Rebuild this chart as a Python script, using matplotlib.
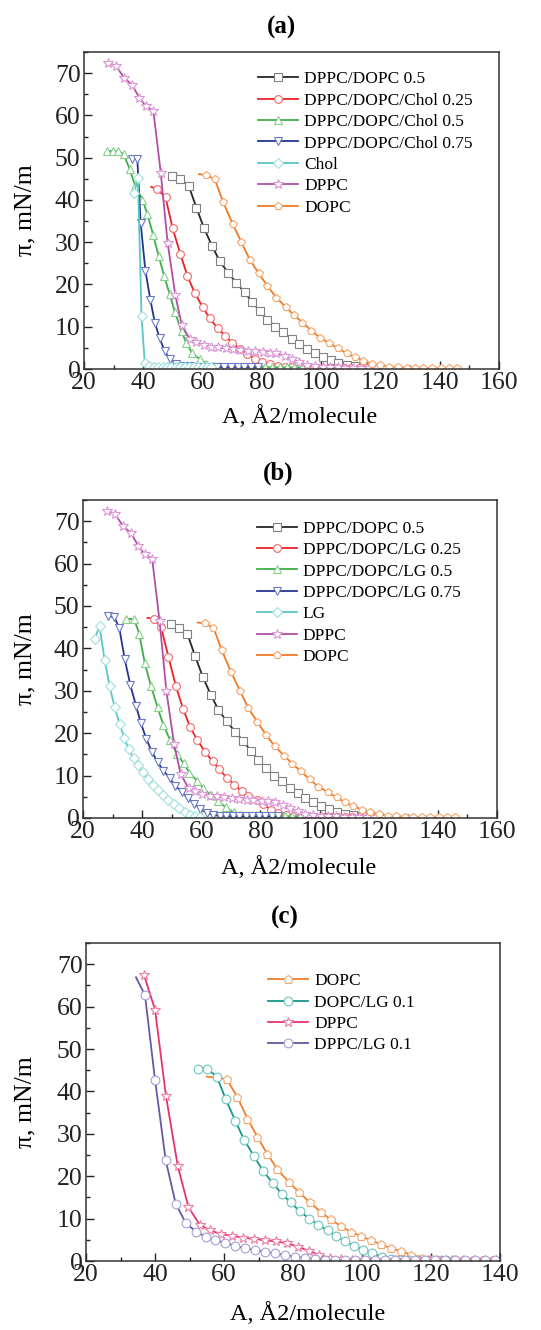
import matplotlib
matplotlib.use("Agg")
import matplotlib.pyplot as plt
from matplotlib.ticker import MultipleLocator

plt.rcParams['font.family'] = ['Liberation Serif', 'DejaVu Serif']

# ---------------- shared pure-lipid isotherms (panels a and b) ----------------
dppc_dopc_A = [49.7, 52.5, 55.3, 57.9, 60.5, 63.2, 65.8, 68.6, 71.4, 74.2, 76.7, 79.3,
               81.9, 84.6, 87.2, 90.0, 92.6, 95.1, 97.9, 100.5, 103.2, 105.8, 108.6,
               111.4, 114.2, 117.0]
dppc_dopc_P = [45.7, 44.9, 43.4, 38.2, 33.3, 29.1, 25.5, 22.8, 20.4, 18.1, 15.9, 13.7,
               11.7, 10.0, 8.7, 7.1, 5.9, 4.8, 3.7, 2.9, 2.1, 1.5, 1.0, 0.7, 0.5, 0.4]

dppc_A = [28.2, 30.8, 33.5, 36.1, 38.7, 40.8, 43.4, 45.9, 48.2, 50.8, 53.0, 55.7, 57.9,
          60.4, 63.0, 65.2, 67.8, 70.3, 72.6, 75.4, 77.6, 80.4, 82.7, 84.9, 87.7, 90.0,
          92.6, 95.1, 97.9, 100.5, 103.0, 105.6, 108.2, 110.8, 113.4, 116.0, 118.6]
dppc_P = [72.4, 71.7, 68.9, 67.3, 64.2, 62.2, 61.1, 46.4, 29.9, 17.5, 10.4, 7.0, 6.3,
          5.7, 5.3, 5.1, 4.9, 4.7, 4.5, 4.3, 4.3, 4.1, 3.9, 3.7, 3.1, 2.3, 1.6, 1.0,
          0.7, 0.55, 0.45, 0.4, 0.35, 0.3, 0.3, 0.3, 0.3]

dopc_A = [58.8, 61.1, 64.1, 66.9, 70.1, 73.1, 75.9, 79.0, 81.9, 84.9, 88.0, 90.8, 93.7,
          96.7, 99.6, 102.7, 105.8, 108.6, 111.4, 114.2, 117.0, 120.0, 123.0, 125.8,
          128.8, 131.6, 134.5, 137.5, 140.3, 143.2, 145.9]
dopc_P = [46.1, 45.9, 44.9, 39.6, 34.4, 30.0, 25.9, 22.6, 19.6, 16.9, 14.7, 12.8, 11.0,
          9.1, 7.4, 6.1, 4.9, 3.7, 2.8, 2.0, 1.3, 0.9, 0.55, 0.4, 0.3, 0.25, 0.2, 0.2,
          0.2, 0.2, 0.2]

# ---------------- panel (a): cholesterol mixtures ----------------
chol25_A = [42.7, 44.6, 47.5, 49.9, 52.5, 54.9, 57.4, 60.0, 62.4, 65.1, 67.7, 70.0, 72.6,
            75.1, 77.6, 80.1, 82.7, 85.3, 87.7, 90.2, 92.7, 95.2, 97.7, 100.2, 102.7,
            105.2, 107.7, 110.2, 112.7, 115.2]
chol25_P = [43.1, 42.6, 40.6, 33.3, 27.2, 22.0, 17.9, 14.7, 12.0, 9.6, 7.8, 6.2, 4.7,
            3.5, 2.4, 1.7, 1.1, 0.8, 0.55, 0.45, 0.4, 0.35, 0.3, 0.3, 0.3, 0.3, 0.3,
            0.3, 0.3, 0.3]

chol50_A = [27.8, 29.8, 31.6, 33.4, 35.4, 37.3, 39.7, 41.4, 43.3, 45.2, 47.0, 48.9, 50.6,
            52.9, 54.5, 56.6, 59.1, 61.3, 63.6, 66.0, 68.5, 71.0, 73.5, 76.0, 78.5, 81.0,
            83.5, 86.0, 88.5, 91.0, 93.5]
chol50_P = [51.6, 51.6, 51.6, 50.8, 47.3, 43.3, 40.1, 36.6, 31.8, 26.7, 22.1, 17.7, 13.6,
            9.0, 6.1, 3.7, 2.3, 1.3, 0.8, 0.6, 0.5, 0.5, 0.5, 0.45, 0.45, 0.45, 0.4,
            0.4, 0.4, 0.4, 0.4]

chol75_A = [36.2, 38.0, 39.1, 40.7, 42.4, 43.9, 45.5, 47.2, 48.9, 51.2, 53.5, 55.8, 58.0,
            60.3, 62.6, 64.9, 67.2, 69.5, 71.8, 74.1, 76.4, 78.7]
chol75_P = [49.8, 49.6, 34.6, 23.3, 16.3, 11.0, 7.3, 4.3, 2.3, 1.2, 0.8, 0.6, 0.5, 0.5,
            0.45, 0.45, 0.45, 0.4, 0.4, 0.4, 0.4, 0.4]

chol_A = [36.9, 38.2, 39.4, 40.5, 42.0, 43.5, 45.0, 46.5, 48.0, 49.5, 51.0, 52.5, 54.0,
          55.5, 57.0, 58.5, 60.0, 61.5, 63.0]
chol_P = [41.7, 45.1, 12.5, 1.5, 0.6, 0.5, 0.45, 0.45, 0.4, 0.4, 0.4, 0.4, 0.4, 0.4,
          0.4, 0.4, 0.4, 0.4, 0.4]

# ---------------- panel (b): LG mixtures ----------------
lg25_A = [41.8, 43.9, 46.4, 48.9, 51.4, 53.8, 56.2, 58.7, 61.3, 63.8, 66.1, 68.6, 71.1,
          73.6, 75.9, 78.7, 81.0, 83.5, 86.1, 88.6, 91.1, 93.6, 96.1, 98.6, 101.1,
          103.6, 106.1, 108.6, 111.1, 113.6]
lg25_P = [47.2, 47.0, 45.0, 38.0, 31.1, 25.8, 21.5, 18.3, 15.6, 13.4, 11.5, 9.5, 7.9,
          6.4, 5.2, 4.2, 3.2, 2.0, 1.2, 0.8, 0.55, 0.45, 0.4, 0.35, 0.3, 0.3, 0.3, 0.3,
          0.3, 0.3]

lg50_A = [34.6, 37.3, 39.0, 40.9, 43.0, 45.2, 47.2, 49.5, 51.7, 54.0, 56.0, 58.5, 60.7,
          63.2, 65.8, 68.3, 70.9, 73.3, 75.8, 78.3, 80.8, 83.3, 85.8, 88.3, 90.8, 93.3]
lg50_P = [47.0, 46.9, 43.5, 36.5, 31.1, 26.1, 21.9, 18.3, 15.2, 12.9, 10.7, 8.8, 7.0,
          5.4, 3.9, 2.5, 1.3, 0.7, 0.5, 0.45, 0.45, 0.4, 0.4, 0.4, 0.4, 0.4]

lg75_A = [28.3, 30.6, 32.3, 34.1, 36.0, 38.0, 39.6, 41.4, 43.3, 45.2, 47.2, 49.3, 51.2,
          53.4, 55.4, 57.6, 59.6, 61.9, 64.0, 66.2, 68.4, 70.6, 72.8, 75.0, 77.2, 79.4,
          81.6, 83.8, 86.0]
lg75_P = [47.6, 47.4, 44.7, 37.5, 31.4, 26.3, 22.3, 18.7, 15.6, 13.2, 11.2, 9.4, 7.6,
          6.2, 4.7, 3.4, 2.2, 1.2, 0.7, 0.5, 0.45, 0.4, 0.4, 0.4, 0.4, 0.4, 0.4, 0.4, 0.4]

lg_A = [23.9, 25.6, 27.3, 29.0, 30.7, 32.4, 34.0, 35.4, 37.1, 38.6, 40.3, 41.9, 43.6,
        45.3, 47.2, 48.9, 50.8, 52.6, 54.5, 56.2, 58.0, 59.6]
lg_P = [42.3, 45.2, 37.3, 31.1, 26.1, 22.2, 18.8, 16.3, 14.1, 12.4, 10.8, 9.2, 7.9, 6.6,
        5.5, 4.3, 3.3, 2.4, 1.3, 0.6, 0.4, 0.35]

# ---------------- panel (c): 0.1 LG in single lipids ----------------
c_dopc_A = [55.0, 60.8, 63.9, 66.8, 69.7, 72.6, 75.5, 78.7, 81.8, 84.9, 88.0, 90.9, 93.8,
            96.7, 99.6, 102.5, 105.5, 108.3, 111.3, 114.1, 117.3, 120.2, 123.1, 126.0,
            128.9, 131.8, 134.7, 137.6]
c_dopc_P = [43.5, 42.9, 38.6, 33.6, 29.2, 25.2, 21.6, 18.7, 16.2, 13.8, 11.6, 9.8, 8.3,
            6.9, 5.9, 4.9, 3.9, 3.0, 2.3, 1.5, 0.8, 0.4, 0.25, 0.2, 0.15, 0.15, 0.15, 0.15]

c_dopc_lg_A = [52.4, 55.2, 57.9, 60.5, 63.3, 65.9, 68.7, 71.4, 74.1, 76.7, 79.3, 82.0,
               84.7, 87.3, 90.0, 92.5, 95.1, 97.7, 100.4, 103.0, 105.7, 108.3, 111.0,
               113.7, 116.3, 119.0, 121.6, 124.3, 127.0]
c_dopc_lg_P = [45.3, 45.3, 43.5, 38.2, 33.0, 28.5, 24.7, 21.2, 18.4, 15.9, 13.8, 11.7,
               10.0, 8.5, 7.2, 5.9, 4.6, 3.6, 2.6, 1.8, 1.0, 0.5, 0.3, 0.2, 0.15, 0.15,
               0.15, 0.15, 0.15]

c_dppc_A = [36.8, 40.0, 43.2, 46.6, 49.7, 52.9, 55.9, 59.1, 62.4, 65.6, 68.7, 71.9, 75.1,
            78.2, 81.4, 84.5, 87.6, 90.7, 94.0, 97.2, 100.4, 103.6, 106.8, 110.0, 113.2,
            116.4, 119.6, 122.8, 126.0, 129.2, 132.4, 135.6, 138.8]
c_dppc_P = [67.5, 59.3, 38.8, 22.4, 12.7, 8.6, 7.2, 6.4, 5.9, 5.5, 5.2, 4.9, 4.6, 4.2,
            3.4, 2.4, 1.4, 0.7, 0.4, 0.3, 0.25, 0.2, 0.2, 0.2, 0.2, 0.2, 0.2, 0.2, 0.2,
            0.2, 0.2, 0.2, 0.2]

c_dppc_lg_A = [34.5, 37.1, 40.0, 43.1, 46.0, 48.9, 51.9, 54.7, 57.4, 60.3, 63.2, 66.1,
               69.0, 71.9, 74.8, 77.7, 80.6, 83.5, 86.4, 89.3, 92.2, 95.1, 98.0, 100.9,
               103.8, 106.7, 109.6, 112.5, 115.4, 118.3, 121.2, 124.1, 127.0, 129.9,
               132.8, 135.7, 138.6]
c_dppc_lg_P = [66.9, 62.7, 42.8, 23.8, 13.5, 9.0, 6.9, 5.7, 4.9, 4.3, 3.6, 3.0, 2.6, 2.2,
               1.8, 1.4, 1.0, 0.7, 0.45, 0.3, 0.25, 0.2, 0.2, 0.2, 0.2, 0.2, 0.2, 0.2,
               0.2, 0.2, 0.2, 0.2, 0.2, 0.2, 0.2, 0.2, 0.2]

labels_a = ["DPPC/DOPC 0.5", "DPPC/DOPC/Chol 0.25", "DPPC/DOPC/Chol 0.5",
            "DPPC/DOPC/Chol 0.75", "Chol", "DPPC", "DOPC"]
labels_b = ["DPPC/DOPC 0.5", "DPPC/DOPC/LG 0.25", "DPPC/DOPC/LG 0.5",
            "DPPC/DOPC/LG 0.75", "LG", "DPPC", "DOPC"]
labels_c = ["DOPC", "DOPC/LG 0.1", "DPPC", "DPPC/LG 0.1"]

# line colour, marker edge colour, marker, first point drawn without marker
sty_black = ("#262626", "#808080", "s", False)
sty_red = ("#ec2227", "#f26a6a", "o", True)
sty_green = ("#3fae49", "#86cf8a", "^", False)
sty_blue = ("#24358f", "#6a7ac4", "v", False)
sty_cyan = ("#5cc6c6", "#9fdfdf", "D", False)
sty_pink = ("#b24ea6", "#dc94d6", "*", False)
sty_orange = ("#f07a25", "#f6a569", "p", True)


def curve(ax, A, P, style, label, ms=5.6, mew=0.8, lw=1.3, z=2):
    color, edge, marker, lead = style
    n = len(A)
    every = list(range(1, n)) if lead else None
    msize = ms * (1.35 if marker == "*" else (0.85 if marker == "D" else 1.0))
    ax.plot(A, P, color=color, lw=lw, marker=marker, markersize=msize,
            markerfacecolor="white", markeredgecolor=edge, markeredgewidth=mew,
            markevery=every, label=label, zorder=z)


def dress(ax, xmax, xlabel_x, xlabel_y, ylabel_x):
    ax.set_xlim(20, xmax)
    ax.set_ylim(0, 75)
    ax.xaxis.set_major_locator(MultipleLocator(20))
    ax.xaxis.set_minor_locator(MultipleLocator(10))
    ax.yaxis.set_major_locator(MultipleLocator(10))
    ax.yaxis.set_minor_locator(MultipleLocator(5))
    ax.tick_params(which="both", direction="in", top=False, right=False,
                   width=1.0, colors="#222222", labelsize=18.5, pad=2.5)
    ax.tick_params(which="major", length=6)
    ax.tick_params(which="minor", length=3)
    for sp in ax.spines.values():
        sp.set_linewidth(1.1)
        sp.set_color("#333333")
    ax.set_xlabel("A, Å2/molecule", fontsize=17.5, va="center")
    ax.set_ylabel("π, mN/m", fontsize=18.5, va="center")
    ax.xaxis.set_label_coords(xlabel_x, xlabel_y)
    ax.yaxis.set_label_coords(ylabel_x, 0.5)


def legend(ax, x, y):
    ax.legend(loc="upper left", bbox_to_anchor=(x, y), frameon=False, fontsize=12.5,
              handlelength=2.3, handletextpad=0.35, labelspacing=0.3,
              borderaxespad=0.0, borderpad=0.0)


W, H = 541, 1330
fig = plt.figure(figsize=(W / 100, H / 100), dpi=100)

ax_a = fig.add_axes([84 / W, 1 - 369 / H, 415 / W, 317 / H])
ax_b = fig.add_axes([83 / W, 1 - 818 / H, 414 / W, 318 / H])
ax_c = fig.add_axes([86 / W, 1 - 1261 / H, 414 / W, 318 / H])

# panel (a)
curve(ax_a, dppc_dopc_A, dppc_dopc_P, sty_black, labels_a[0])
curve(ax_a, chol25_A, chol25_P, sty_red, labels_a[1])
curve(ax_a, chol50_A, chol50_P, sty_green, labels_a[2])
curve(ax_a, chol75_A, chol75_P, sty_blue, labels_a[3])
curve(ax_a, chol_A, chol_P, sty_cyan, labels_a[4])
curve(ax_a, dppc_A, dppc_P, sty_pink, labels_a[5])
curve(ax_a, dopc_A, dopc_P, sty_orange, labels_a[6])
dress(ax_a, 160, 0.52, -0.15, -0.142)
legend(ax_a, 0.42, 0.939)

# panel (b)
curve(ax_b, dppc_dopc_A, dppc_dopc_P, sty_black, labels_b[0])
curve(ax_b, lg25_A, lg25_P, sty_red, labels_b[1])
curve(ax_b, lg50_A, lg50_P, sty_green, labels_b[2])
curve(ax_b, lg75_A, lg75_P, sty_blue, labels_b[3])
curve(ax_b, lg_A, lg_P, sty_cyan, labels_b[4])
curve(ax_b, dppc_A, dppc_P, sty_pink, labels_b[5])
curve(ax_b, dopc_A, dopc_P, sty_orange, labels_b[6])
dress(ax_b, 160, 0.52, -0.157, -0.14)
legend(ax_b, 0.42, 0.935)

# panel (c)
sty_c_dopc = ("#f07f2c", "#f6a66c", "p", True)
sty_c_dopc_lg = ("#17968a", "#6cc4bb", "o", False)
sty_c_dppc = ("#e6336f", "#f07ba2", "*", False)
sty_c_dppc_lg = ("#6657a8", "#a79ed6", "o", True)
curve(ax_c, c_dopc_A, c_dopc_P, sty_c_dopc, labels_c[0], ms=6.3)
curve(ax_c, c_dopc_lg_A, c_dopc_lg_P, sty_c_dopc_lg, labels_c[1], ms=6.3)
curve(ax_c, c_dppc_A, c_dppc_P, sty_c_dppc, labels_c[2], ms=5.8)
curve(ax_c, c_dppc_lg_A, c_dppc_lg_P, sty_c_dppc_lg, labels_c[3], ms=6.3)
dress(ax_c, 140, 0.536, -0.164, -0.146)
legend(ax_c, 0.44, 0.905)

fig.text(282 / W, 1 - 27 / H, "(a)", fontsize=18, fontweight="bold", ha="center", va="center")
fig.text(278 / W, 1 - 473 / H, "(b)", fontsize=18, fontweight="bold", ha="center", va="center")
fig.text(285 / W, 1 - 917 / H, "(c)", fontsize=18, fontweight="bold", ha="center", va="center")

fig.savefig("out.png", dpi=100, facecolor="white")
